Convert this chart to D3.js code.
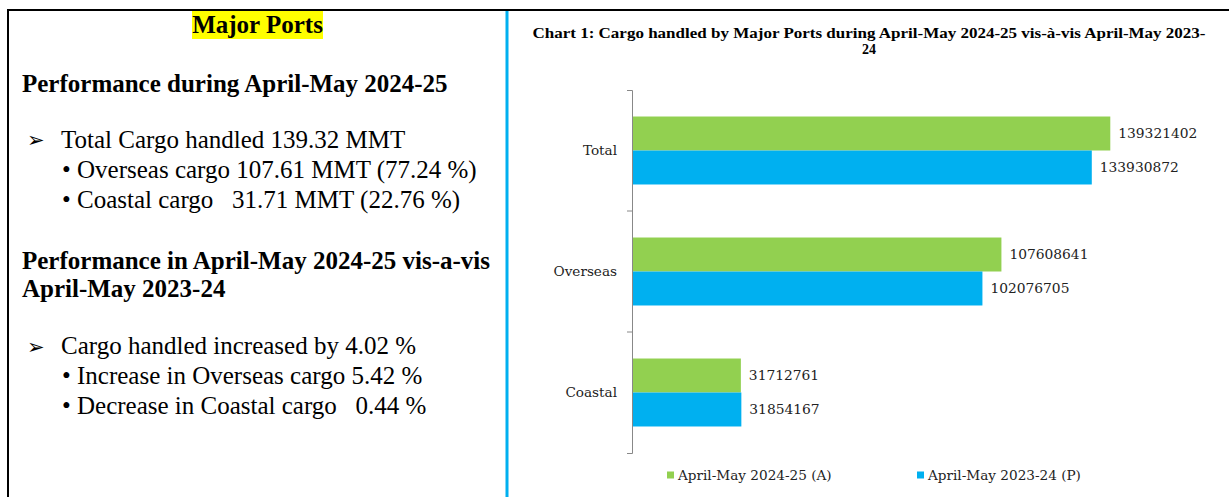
<!DOCTYPE html>
<html>
<head>
<meta charset="utf-8">
<script src="https://cdn.jsdelivr.net/npm/d3@7"></script>
<style>
  body { margin: 0; background: #fff; }
  text { white-space: pre; }
</style>
</head>
<body>
<div id="chart"></div>
<script>
var W = 1229, H = 497;

// chart data
var categories = ["Total", "Overseas", "Coastal"];
var seriesNames = ["April-May 2024-25 (A)", "April-May 2023-24 (P)"];
var cargo2425 = [139321402, 107608641, 31712761];
var cargo2324 = [133930872, 102076705, 31854167];
var seriesColors = ["#92D050", "#00B0F0"];

// left panel text
var leftHeading = "Major Ports";
var perfTitle = "Performance during April-May 2024-25";
var perfLines = ["Total Cargo handled 139.32 MMT", "Overseas cargo 107.61 MMT (77.24 %)", "Coastal cargo   31.71 MMT (22.76 %)"];
var compTitle = ["Performance in April-May 2024-25 vis-a-vis", "April-May 2023-24"];
var compLines = ["Cargo handled increased by 4.02 %", "Increase in Overseas cargo 5.42 %", "Decrease in Coastal cargo   0.44 %"];
var chartTitle = ["Chart 1: Cargo handled by Major Ports during April-May 2024-25 vis-\u00e0-vis April-May 2023-", "24"];

var svg = d3.select("#chart").append("svg").attr("width", W).attr("height", H);

// frame
svg.append("rect").attr("x", 8).attr("y", 10).attr("width", W + 10).attr("height", H + 10)
    .attr("fill", "none").attr("stroke", "#000").attr("stroke-width", 2);
svg.append("rect").attr("x", 505.5).attr("y", 11).attr("width", 3).attr("height", H).attr("fill", "#00B0F0");

// ---- left panel ----
var serif = "'Liberation Serif', 'Times New Roman', serif";
svg.append("rect").attr("x", 192).attr("y", 11).attr("width", 131).attr("height", 28).attr("fill", "#FFFF00");
svg.append("text").attr("x", 257.5).attr("y", 33).attr("text-anchor", "middle")
    .attr("font-family", serif).attr("font-weight", "bold").attr("font-size", 25).text(leftHeading);

svg.append("text").attr("x", 22).attr("y", 92).attr("font-family", serif).attr("font-weight", "bold")
    .attr("font-size", 25).text(perfTitle);

function bulletBlock(lines, y0) {
    svg.append("text").attr("x", 27).attr("y", y0 - 0.5).attr("font-family", "'DejaVu Sans', sans-serif")
        .attr("font-size", 21).text("\u27A2");
    svg.append("text").attr("x", 61).attr("y", y0).attr("font-family", serif).attr("font-size", 25).text(lines[0]);
    for (var i = 1; i < lines.length; i++) {
        svg.append("text").attr("x", 62).attr("y", y0 + i * 30).attr("font-family", serif)
            .attr("font-size", 25).text("\u2022 " + lines[i]);
    }
}
bulletBlock(perfLines, 147.5);

compTitle.forEach(function (t, i) {
    svg.append("text").attr("x", 22).attr("y", 268.5 + i * 28.5).attr("font-family", serif).attr("font-weight", "bold")
        .attr("font-size", 25).text(t);
});
bulletBlock(compLines, 354);

// ---- chart ----
var cfont = "'DejaVu Serif', serif";
svg.append("text").attr("x", 869).attr("y", 38).attr("text-anchor", "middle").attr("font-family", serif)
    .attr("font-weight", "bold").attr("font-size", 14).attr("textLength", 673).attr("lengthAdjust", "spacingAndGlyphs")
    .text(chartTitle[0]);
svg.append("text").attr("x", 869).attr("y", 54).attr("text-anchor", "middle").attr("font-family", serif)
    .attr("font-weight", "bold").attr("font-size", 14).text(chartTitle[1]);

var x = d3.scaleLinear().domain([0, 160000000]).range([632, 632 + 160 * 3.433]);
var y = d3.scaleBand().domain(categories).range([90, 453]);
var y1 = d3.scaleBand().domain(seriesNames).range([0, y.bandwidth()]).paddingOuter(0.78);

var rows = categories.map(function (c, i) {
    return { cat: c, vals: [cargo2425[i], cargo2324[i]] };
});

var groups = svg.selectAll("g.cat").data(rows).enter().append("g").attr("class", "cat")
    .attr("transform", function (d) { return "translate(0," + y(d.cat) + ")"; });

groups.selectAll("rect").data(function (d) { return d.vals; }).enter().append("rect")
    .attr("x", x(0))
    .attr("y", function (d, i) { return y1(seriesNames[i]); })
    .attr("height", y1.bandwidth())
    .attr("width", function (d) { return x(d) - x(0); })
    .attr("fill", function (d, i) { return seriesColors[i]; });

groups.selectAll("text.val").data(function (d) { return d.vals; }).enter().append("text").attr("class", "val")
    .attr("x", function (d) { return x(d) + 8; })
    .attr("y", function (d, i) { return y1(seriesNames[i]) + y1.bandwidth() / 2; })
    .attr("dy", "0.35em").attr("font-family", cfont).attr("font-size", 13.8).attr("fill", "#222")
    .text(function (d) { return d; });

// axis
var axis = svg.append("g").attr("transform", "translate(" + x(0) + ",0)")
    .call(d3.axisLeft(y).tickSizeInner(0).tickSizeOuter(5).tickPadding(15));
axis.select(".domain").attr("stroke", "#888");
axis.selectAll("text").attr("font-family", cfont).attr("font-size", 13.6).attr("fill", "#222");
axis.selectAll("line.sep").data(categories.slice(1)).enter().append("line").attr("class", "sep")
    .attr("x1", -5).attr("x2", 0)
    .attr("y1", function (d) { return y(d); }).attr("y2", function (d) { return y(d); })
    .attr("stroke", "#888");

// legend
var legendX = [667, 917];
var legend = svg.selectAll("g.leg").data(seriesNames).enter().append("g").attr("class", "leg")
    .attr("transform", function (d, i) { return "translate(" + legendX[i] + ",475)"; });
legend.append("rect").attr("x", 0).attr("y", -3.5).attr("width", 7).attr("height", 7)
    .attr("fill", function (d, i) { return seriesColors[i]; });
legend.append("text").attr("x", 11).attr("dy", "0.35em").attr("font-family", cfont).attr("font-size", 13.6)
    .attr("fill", "#222").text(function (d) { return d; });
</script>
</body>
</html>
